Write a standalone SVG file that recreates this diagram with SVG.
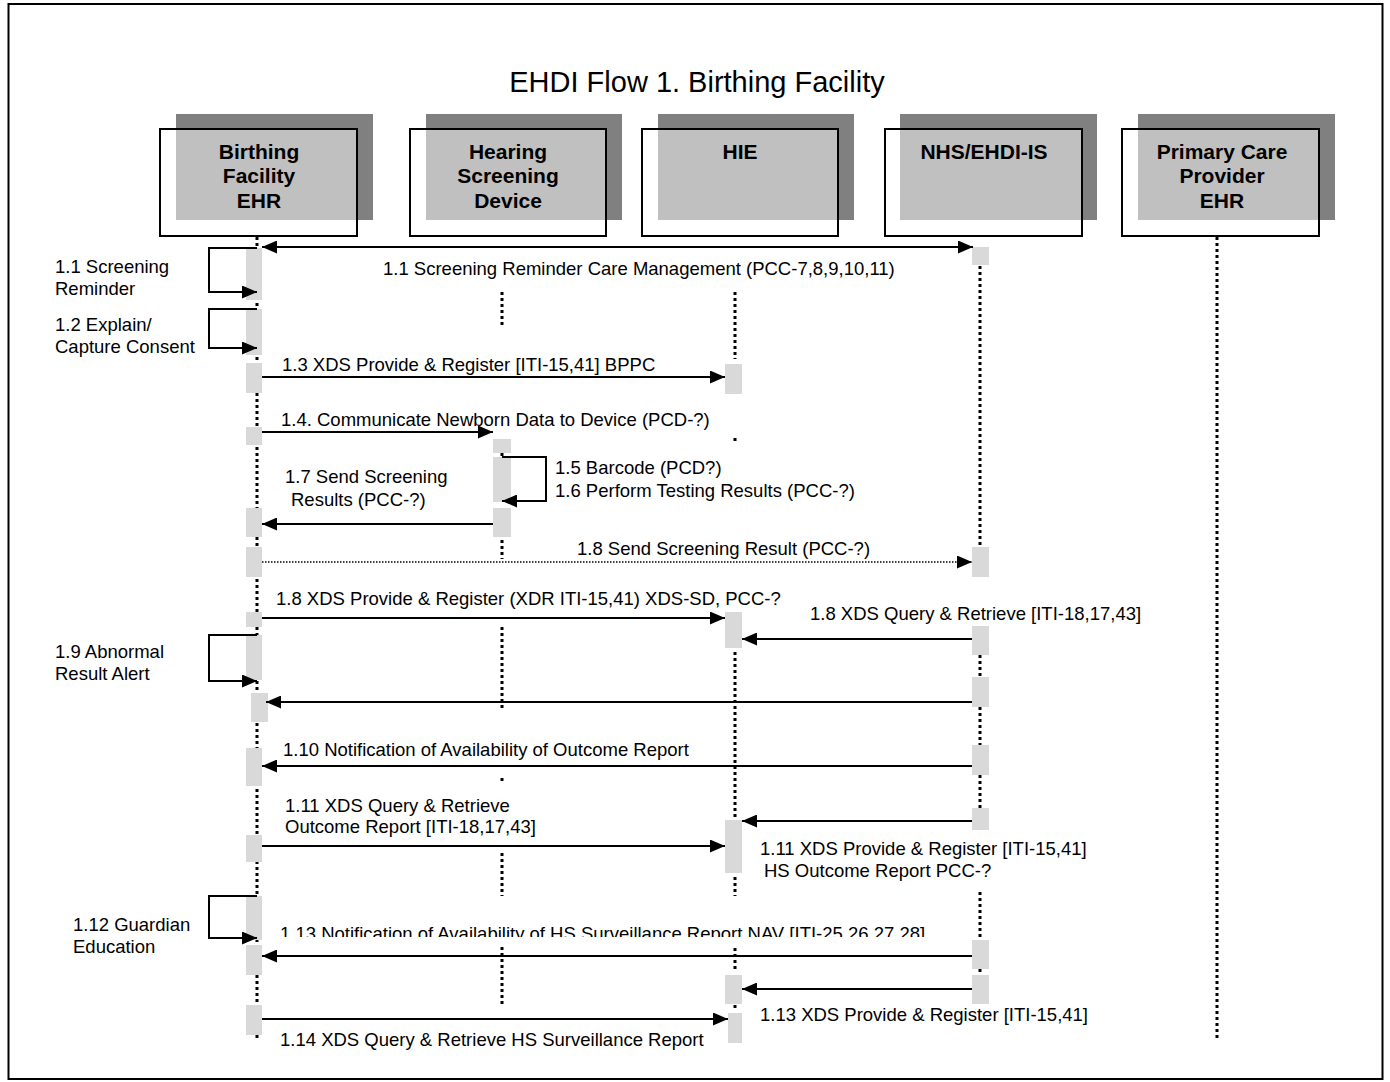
<svg xmlns="http://www.w3.org/2000/svg" width="1390" height="1082" viewBox="0 0 1390 1082">
  <style>
    .lbl { font-family: "Liberation Sans", Arial, sans-serif; font-size: 18.5px; fill: #000; }
    .hdr { font-family: "Liberation Sans", Arial, sans-serif; font-size: 21px; font-weight: bold; fill: #000; text-anchor: middle; }
    .title { font-family: "Liberation Sans", Arial, sans-serif; font-size: 29px; fill: #000; text-anchor: middle; }
    .shadow { fill: #808080; }
    .box { fill: #ffffff; fill-opacity: 0.5; stroke: #000; stroke-width: 2; }
    .life { stroke: #000; stroke-width: 3; stroke-dasharray: 3 3; fill: none; }
    .act { fill: #d9d9d9; }
    .msg { stroke: #000; stroke-width: 2; fill: none; marker-end: url(#ah); }
    .loop { stroke: #000; stroke-width: 2; fill: none; marker-end: url(#ah); }
    .async { stroke: #000; stroke-width: 1.3; stroke-dasharray: 1.5 1.5; fill: none; marker-end: url(#ah); }
  </style>
  <defs>
    <marker id="ah" markerUnits="userSpaceOnUse" markerWidth="15" markerHeight="13" refX="15" refY="6.5" orient="auto-start-reverse">
      <path d="M0,0 L15,6.5 L0,13 z" fill="#000"/>
    </marker>
    <clipPath id="cut113">
      <rect x="0" y="900" width="1390" height="37"/>
    </clipPath>
  </defs>

  <rect width="1390" height="1082" fill="#fff"/>
  <rect x="8.5" y="4" width="1374" height="1075" fill="none" stroke="#000" stroke-width="2"/>

  <text class="title" x="697" y="92">EHDI Flow 1. Birthing Facility</text>

  <!-- Birthing Facility EHR -->
  <g id="birthing-facility-ehr">
    <rect class="shadow" x="176" y="114" width="197" height="106"/>
    <rect class="box" x="160" y="129" width="197" height="107"/>
    <text class="hdr" x="259" y="159">Birthing</text>
    <text class="hdr" x="259" y="183">Facility</text>
    <text class="hdr" x="259" y="208">EHR</text>
    <line class="life" x1="257" y1="237" x2="257" y2="1041"/>
    <rect class="act" x="246" y="248" width="16" height="52"/>
    <rect class="act" x="246" y="309" width="16" height="46"/>
    <rect class="act" x="246" y="363" width="16" height="30"/>
    <rect class="act" x="246" y="427" width="16" height="18"/>
    <rect class="act" x="246" y="508" width="16" height="29"/>
    <rect class="act" x="246" y="547" width="16" height="30"/>
    <rect class="act" x="246" y="612" width="16" height="15"/>
    <rect class="act" x="246" y="635" width="16" height="45"/>
    <rect class="act" x="251" y="693" width="17" height="29"/>
    <rect class="act" x="246" y="748" width="16" height="38"/>
    <rect class="act" x="246" y="835" width="16" height="27"/>
    <rect class="act" x="246" y="896" width="16" height="44"/>
    <rect class="act" x="246" y="945" width="16" height="30"/>
    <rect class="act" x="246" y="1005" width="16" height="30"/>
  </g>

  <!-- Hearing Screening Device -->
  <g id="hearing-screening-device">
    <rect class="shadow" x="426" y="114" width="196" height="106"/>
    <rect class="box" x="410" y="129" width="196" height="107"/>
    <text class="hdr" x="508" y="159">Hearing</text>
    <text class="hdr" x="508" y="183">Screening</text>
    <text class="hdr" x="508" y="208">Device</text>
    <line class="life" x1="502" y1="292" x2="502" y2="328"/>
    <line class="life" x1="502" y1="453" x2="502" y2="457"/>
    <line class="life" x1="502" y1="540" x2="502" y2="559"/>
    <line class="life" x1="502" y1="627" x2="502" y2="711"/>
    <line class="life" x1="502" y1="778" x2="502" y2="784"/>
    <line class="life" x1="502" y1="853" x2="502" y2="896"/>
    <line class="life" x1="502" y1="947" x2="502" y2="1004"/>
    <rect class="act" x="493" y="439" width="18" height="14"/>
    <rect class="act" x="493" y="457" width="18" height="45"/>
    <rect class="act" x="493" y="508" width="18" height="29"/>
  </g>

  <!-- HIE -->
  <g id="hie">
    <rect class="shadow" x="658" y="114" width="196" height="106"/>
    <rect class="box" x="642" y="129" width="196" height="107"/>
    <text class="hdr" x="740" y="159">HIE</text>
    <line class="life" x1="735" y1="292" x2="735" y2="359"/>
    <line class="life" x1="735" y1="438" x2="735" y2="444"/>
    <line class="life" x1="735" y1="652" x2="735" y2="818"/>
    <line class="life" x1="735" y1="877" x2="735" y2="896"/>
    <line class="life" x1="735" y1="948" x2="735" y2="971"/>
    <line class="life" x1="735" y1="1005" x2="735" y2="1011"/>
    <rect class="act" x="725" y="364" width="17" height="30"/>
    <rect class="act" x="725" y="612" width="17" height="36"/>
    <rect class="act" x="725" y="820" width="17" height="53"/>
    <rect class="act" x="725" y="975" width="17" height="29"/>
    <rect class="act" x="728" y="1013" width="14" height="30"/>
  </g>

  <!-- NHS/EHDI-IS -->
  <g id="nhs-ehdi-is">
    <rect class="shadow" x="900" y="114" width="197" height="106"/>
    <rect class="box" x="885" y="129" width="197" height="107"/>
    <text class="hdr" x="984" y="159">NHS/EHDI-IS</text>
    <line class="life" x1="980" y1="266" x2="980" y2="548"/>
    <line class="life" x1="980" y1="655" x2="980" y2="678"/>
    <line class="life" x1="980" y1="707" x2="980" y2="746"/>
    <line class="life" x1="980" y1="775" x2="980" y2="809"/>
    <line class="life" x1="980" y1="892" x2="980" y2="939"/>
    <line class="life" x1="980" y1="969" x2="980" y2="976"/>
    <rect class="act" x="972" y="247" width="17" height="18"/>
    <rect class="act" x="972" y="547" width="17" height="30"/>
    <rect class="act" x="972" y="626" width="17" height="29"/>
    <rect class="act" x="972" y="677" width="17" height="30"/>
    <rect class="act" x="972" y="745" width="17" height="30"/>
    <rect class="act" x="972" y="808" width="17" height="22"/>
    <rect class="act" x="972" y="940" width="17" height="29"/>
    <rect class="act" x="972" y="975" width="17" height="29"/>
  </g>

  <!-- Primary Care Provider EHR -->
  <g id="primary-care-provider-ehr">
    <rect class="shadow" x="1138" y="114" width="197" height="106"/>
    <rect class="box" x="1122" y="129" width="197" height="107"/>
    <text class="hdr" x="1222" y="159">Primary Care</text>
    <text class="hdr" x="1222" y="183">Provider</text>
    <text class="hdr" x="1222" y="208">EHR</text>
    <line class="life" x1="1217" y1="237" x2="1217" y2="1041"/>
  </g>

  <!-- Messages -->
  <g id="connectors">
    <!-- 1.1 -->
    <path class="loop" d="M257,248 H209 V292 H257"/>
    <line class="msg" x1="262" y1="247" x2="973" y2="247" marker-start="url(#ah)"/>
    <!-- 1.2 -->
    <path class="loop" d="M257,309 H209 V348 H257"/>
    <!-- 1.3 -->
    <line class="msg" x1="262" y1="377" x2="725" y2="377"/>
    <!-- 1.4 -->
    <line class="msg" x1="262" y1="432" x2="493" y2="432"/>
    <!-- 1.5 / 1.6 -->
    <path class="loop" d="M502,457 H546 V501 H502"/>
    <!-- 1.7 -->
    <line class="msg" x1="493" y1="524" x2="262" y2="524"/>
    <!-- 1.8 send screening result -->
    <line class="async" x1="262" y1="562" x2="972" y2="562"/>
    <!-- 1.8 XDS provide -->
    <line class="msg" x1="262" y1="618" x2="725" y2="618"/>
    <!-- 1.8 query -->
    <line class="msg" x1="972" y1="639" x2="742" y2="639"/>
    <!-- 1.9 -->
    <path class="loop" d="M257,635 H209 V681 H257"/>
    <line class="msg" x1="972" y1="702" x2="266" y2="702"/>
    <!-- 1.10 -->
    <line class="msg" x1="972" y1="766" x2="262" y2="766"/>
    <!-- 1.11 -->
    <line class="msg" x1="972" y1="821" x2="742" y2="821"/>
    <line class="msg" x1="262" y1="846" x2="725" y2="846"/>
    <!-- 1.12 -->
    <path class="loop" d="M257,896 H209 V938 H257"/>
    <!-- 1.13 -->
    <line class="msg" x1="972" y1="956" x2="262" y2="956"/>
    <line class="msg" x1="972" y1="989" x2="742" y2="989"/>
    <!-- 1.14 -->
    <line class="msg" x1="262" y1="1019" x2="728" y2="1019"/>
  </g>

  <!-- Message labels -->
  <g id="labels">
    <text class="lbl" x="55" y="273">1.1 Screening</text>
    <text class="lbl" x="55" y="295">Reminder</text>
    <text class="lbl" x="383" y="275">1.1 Screening Reminder Care Management (PCC-7,8,9,10,11)</text>
    <text class="lbl" x="55" y="331">1.2 Explain/</text>
    <text class="lbl" x="55" y="353">Capture Consent</text>
    <text class="lbl" x="282" y="371">1.3 XDS Provide &amp; Register [ITI-15,41] BPPC</text>
    <text class="lbl" x="281" y="426">1.4. Communicate Newborn Data to Device (PCD-?)</text>
    <text class="lbl" x="555" y="474">1.5 Barcode (PCD?)</text>
    <text class="lbl" x="555" y="497">1.6 Perform Testing Results (PCC-?)</text>
    <text class="lbl" x="285" y="483">1.7 Send Screening</text>
    <text class="lbl" x="291" y="506">Results (PCC-?)</text>
    <text class="lbl" x="577" y="555">1.8 Send Screening Result (PCC-?)</text>
    <text class="lbl" x="276" y="605">1.8 XDS Provide &amp; Register (XDR ITI-15,41) XDS-SD, PCC-?</text>
    <text class="lbl" x="810" y="620">1.8 XDS Query &amp; Retrieve [ITI-18,17,43]</text>
    <text class="lbl" x="55" y="658">1.9 Abnormal</text>
    <text class="lbl" x="55" y="680">Result Alert</text>
    <text class="lbl" x="283" y="756">1.10 Notification of Availability of Outcome Report</text>
    <text class="lbl" x="285" y="812">1.11 XDS Query &amp; Retrieve</text>
    <text class="lbl" x="285" y="833">Outcome Report [ITI-18,17,43]</text>
    <text class="lbl" x="760" y="855">1.11 XDS Provide &amp; Register [ITI-15,41]</text>
    <text class="lbl" x="764" y="877">HS Outcome Report PCC-?</text>
    <text class="lbl" x="73" y="931">1.12 Guardian</text>
    <text class="lbl" x="73" y="953">Education</text>
    <text class="lbl" x="280" y="940" clip-path="url(#cut113)">1.13 Notification of Availability of HS Surveillance Report NAV [ITI-25,26,27,28]</text>
    <text class="lbl" x="760" y="1021">1.13 XDS Provide &amp; Register [ITI-15,41]</text>
    <text class="lbl" x="280" y="1046">1.14 XDS Query &amp; Retrieve HS Surveillance Report</text>
  </g>
</svg>
